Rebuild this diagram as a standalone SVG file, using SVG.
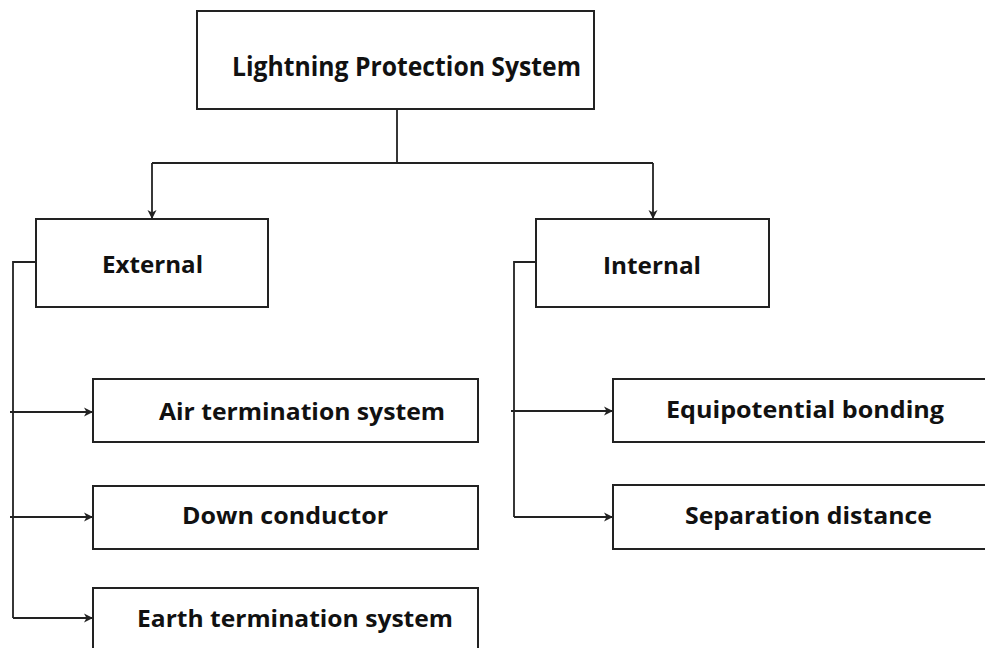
<svg xmlns="http://www.w3.org/2000/svg" width="985" height="648" viewBox="0 0 985 648">
<style>
.box{fill:#fff;stroke:#222;stroke-width:2}
.lbl{font-family:"Open Sans","Liberation Sans",sans-serif;font-weight:bold;fill:#111}
.ln{fill:none;stroke:#222;stroke-width:1.8}
</style>
<defs>
<marker id="ah" markerWidth="12" markerHeight="12" refX="9" refY="6" orient="auto" markerUnits="userSpaceOnUse">
<path d="M1,1.5 L10,6 L1,10.5 L3.5,6 Z" fill="#222"/>
</marker>
</defs>
<rect width="985" height="648" fill="#fff"/>
<g id="connectors">
<path class="ln" d="M397,109 V163 M152,163 H653"/>
<path class="ln" d="M152,163 V218" marker-end="url(#ah)"/>
<path class="ln" d="M653,163 V218" marker-end="url(#ah)"/>
<path class="ln" d="M36,262 H13 V618"/>
<path class="ln" d="M10,412 H92" marker-end="url(#ah)"/>
<path class="ln" d="M10,517 H92" marker-end="url(#ah)"/>
<path class="ln" d="M13,618 H92" marker-end="url(#ah)"/>
<path class="ln" d="M536,262 H514 V517"/>
<path class="ln" d="M511,411 H612" marker-end="url(#ah)"/>
<path class="ln" d="M514,517 H612" marker-end="url(#ah)"/>
</g>
<g id="lps">
<rect class="box" x="197" y="11" width="397" height="98"/>
<text class="lbl" x="232" y="76" font-size="26" textLength="349" lengthAdjust="spacingAndGlyphs">Lightning Protection System</text>
</g>
<g id="external">
<rect class="box" x="36" y="219" width="232" height="88"/>
<text class="lbl" x="102" y="273" font-size="24" textLength="101" lengthAdjust="spacingAndGlyphs">External</text>
</g>
<g id="internal">
<rect class="box" x="536" y="219" width="233" height="88"/>
<text class="lbl" x="603" y="274" font-size="24" textLength="98" lengthAdjust="spacingAndGlyphs">Internal</text>
</g>
<g id="air">
<rect class="box" x="93" y="379" width="385" height="63"/>
<text class="lbl" x="159" y="420" font-size="24" textLength="286" lengthAdjust="spacingAndGlyphs">Air termination system</text>
</g>
<g id="down">
<rect class="box" x="93" y="486" width="385" height="63"/>
<text class="lbl" x="182" y="524" font-size="24" textLength="206" lengthAdjust="spacingAndGlyphs">Down conductor</text>
</g>
<g id="earth">
<rect class="box" x="93" y="588" width="385" height="80"/>
<text class="lbl" x="137" y="627" font-size="24" textLength="316" lengthAdjust="spacingAndGlyphs">Earth termination system</text>
</g>
<g id="equi">
<rect class="box" x="613" y="379" width="390" height="63"/>
<text class="lbl" x="666" y="418" font-size="24" textLength="278" lengthAdjust="spacingAndGlyphs">Equipotential bonding</text>
</g>
<g id="sep">
<rect class="box" x="613" y="485" width="390" height="64"/>
<text class="lbl" x="685" y="524" font-size="24" textLength="247" lengthAdjust="spacingAndGlyphs">Separation distance</text>
</g>
</svg>
